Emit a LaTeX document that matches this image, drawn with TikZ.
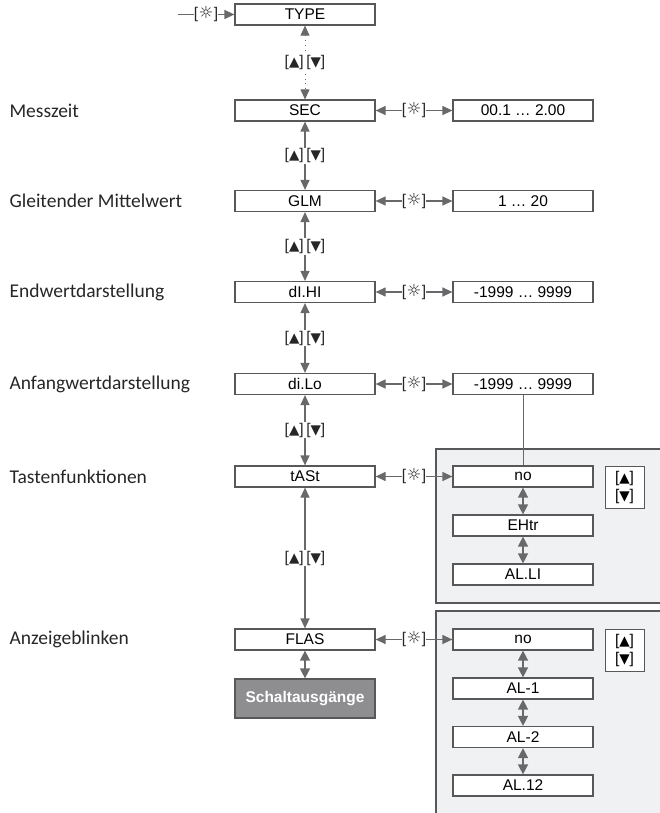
\documentclass[tikz,border=0pt]{standalone}
\usepackage{fontspec}
\setmainfont{Liberation Sans}
\newfontfamily\labelfont{Carlito}
\newfontfamily\symfont{DejaVu Sans}
\usetikzlibrary{arrows.meta,positioning,calc}
\definecolor{boxgray}{RGB}{88,88,90}
\definecolor{arrgray}{RGB}{105,105,108}
\definecolor{panelbg}{RGB}{240,241,243}
\definecolor{darkbox}{RGB}{142,142,145}
\newcommand\boxfont{\fontsize{15.5}{18}\selectfont}
\newcommand\upkey{[{\symfont\fontsize{13.5}{15}\selectfont ▲}]}
\newcommand\dnkey{[{\symfont\fontsize{13.5}{15}\selectfont ▼}]}
\newcommand\updn{\upkey\,\dnkey}
\newcommand\sunkey{[\kern0.5pt{\symfont\fontsize{16.5}{18}\selectfont ☼}\kern0.5pt]}

\begin{document}
\begin{tikzpicture}[x=1pt, y=-1pt,
    mbox/.style={draw=boxgray, line width=1.2pt, fill=white, minimum width=140pt,
                 minimum height=21pt, inner sep=0pt, font=\boxfont},
    sbox/.style={mbox, fill=darkbox, minimum height=39pt, text=white, font=\boxfont\bfseries},
    keybox/.style={draw=boxgray, line width=0.8pt, fill=white, minimum width=39pt,
                   minimum height=42pt, inner sep=0pt, align=center, font=\boxfont},
    lbl/.style={anchor=west, font=\labelfont\fontsize{19.5}{22}\selectfont, text=black!85},
    key/.style={inner sep=0pt, font=\boxfont, text=black!85},
    nav/.style={fill=white, inner sep=1pt, font=\boxfont, text=black!85},
    arr/.style={-{Triangle[length=10pt,width=9pt]}, draw=arrgray, line width=1.2pt},
    darr/.style={{Triangle[length=10pt,width=9pt]}-{Triangle[length=10pt,width=9pt]},
                 draw=arrgray, line width=1.2pt},
    parr/.style={{Triangle[length=10pt,width=10pt]}-{Triangle[length=10pt,width=10pt]},
                 draw=arrgray, line width=1.4pt}
]
\useasboundingbox (0,0) rectangle (660,813);

% grey panels
\fill[panelbg] (436,449) rectangle (665,603);
\draw[boxgray, line width=1.2pt] (665,449) -- (436,449) -- (436,603) -- (665,603);
\fill[panelbg] (436,611) rectangle (665,820);
\draw[boxgray, line width=1.2pt] (665,611) -- (436,611) -- (436,820);

% main column
\node[mbox] (type) at (305,14.5) {TYPE};
\node[mbox] (sec)  at (305,110.5) {SEC};
\node[mbox] (glm)  at (305,201) {GLM};
\node[mbox] (dihi) at (305,292) {dI.HI};
\node[mbox] (dilo) at (305,384) {di.Lo};
\node[mbox] (tast) at (305,476.5) {tASt};
\node[mbox] (flas) at (305,639.5) {FLAS};
\node[sbox] (schalt) at (305,698.5) {Schaltausgänge};

% values
\node[mbox] (vsec)  at (523,110.5) {00.1 … 2.00};
\node[mbox] (vglm)  at (523,201) {1 … 20};
\node[mbox] (vdihi) at (523,292) {-1999 … 9999};
\node[mbox] (vdilo) at (523,384) {-1999 … 9999};
\node[mbox] (tno)   at (523,476.5) {no};
\node[mbox] (tehtr) at (523,525.5) {EHtr};
\node[mbox] (tali)  at (523,574.5) {AL.LI};
\node[mbox] (fno)   at (523,639.5) {no};
\node[mbox] (fal1)  at (523,688.5) {AL-1};
\node[mbox] (fal2)  at (523,737) {AL-2};
\node[mbox] (fal12) at (523,785.5) {AL.12};

\node[keybox] (tkeys) at (624.5,487) {\upkey\\\dnkey};
\node[keybox] (fkeys) at (624.5,650) {\upkey\\\dnkey};

% left labels
\node[lbl] at (6,110.5) {Messzeit};
\node[lbl] at (6,201) {Gleitender Mittelwert};
\node[lbl] at (6,292) {Endwertdarstellung};
\node[lbl] at (6,384) {Anfangwertdarstellung};
\node[lbl] at (6,476.5) {Tastenfunktionen};
\node[lbl] at (6,639.5) {Anzeigeblinken};

% entry
\coordinate (start) at (178,14.5);
\node[key] (s0) at (206,14.5) {\sunkey};
\draw[arrgray, line width=1.2pt] (start) -- (s0.west);
\draw[arr] (s0.east) -- (type.west);

% up/down steps
\draw[darr, line width=0.8pt, dash pattern=on 0.8pt off 4pt] (type) -- node[nav] {\updn} (sec);
\draw[darr] (sec)  -- node[nav] {\updn} (glm);
\draw[darr] (glm)  -- node[nav] {\updn} (dihi);
\draw[darr] (dihi) -- node[nav] {\updn} (dilo);
\draw[darr] (dilo) -- node[nav] {\updn} (tast);
\draw[darr] (tast) -- node[nav] {\updn} (flas);
\draw[parr] (flas) -- (schalt);

% enter keys
\foreach \m/\v/\s in {sec/vsec/s1, glm/vglm/s2, dihi/vdihi/s3, dilo/vdilo/s4, tast/tno/s5, flas/fno/s6}{
  \node[key] (\s) at ($(\m.east)!0.5!(\v.west)$) {\sunkey};
  \draw[arr] (\s.west) -- (\m.east);
  \draw[arr] (\s.east) -- (\v.west);
}

\draw[arrgray, line width=0.8pt] (vdilo.south) -- (tno.north);

% choice lists
\draw[parr] (tno) -- (tehtr);
\draw[parr] (tehtr) -- (tali);
\draw[parr] (fno) -- (fal1);
\draw[parr] (fal1) -- (fal2);
\draw[parr] (fal2) -- (fal12);
\end{tikzpicture}
\end{document}
